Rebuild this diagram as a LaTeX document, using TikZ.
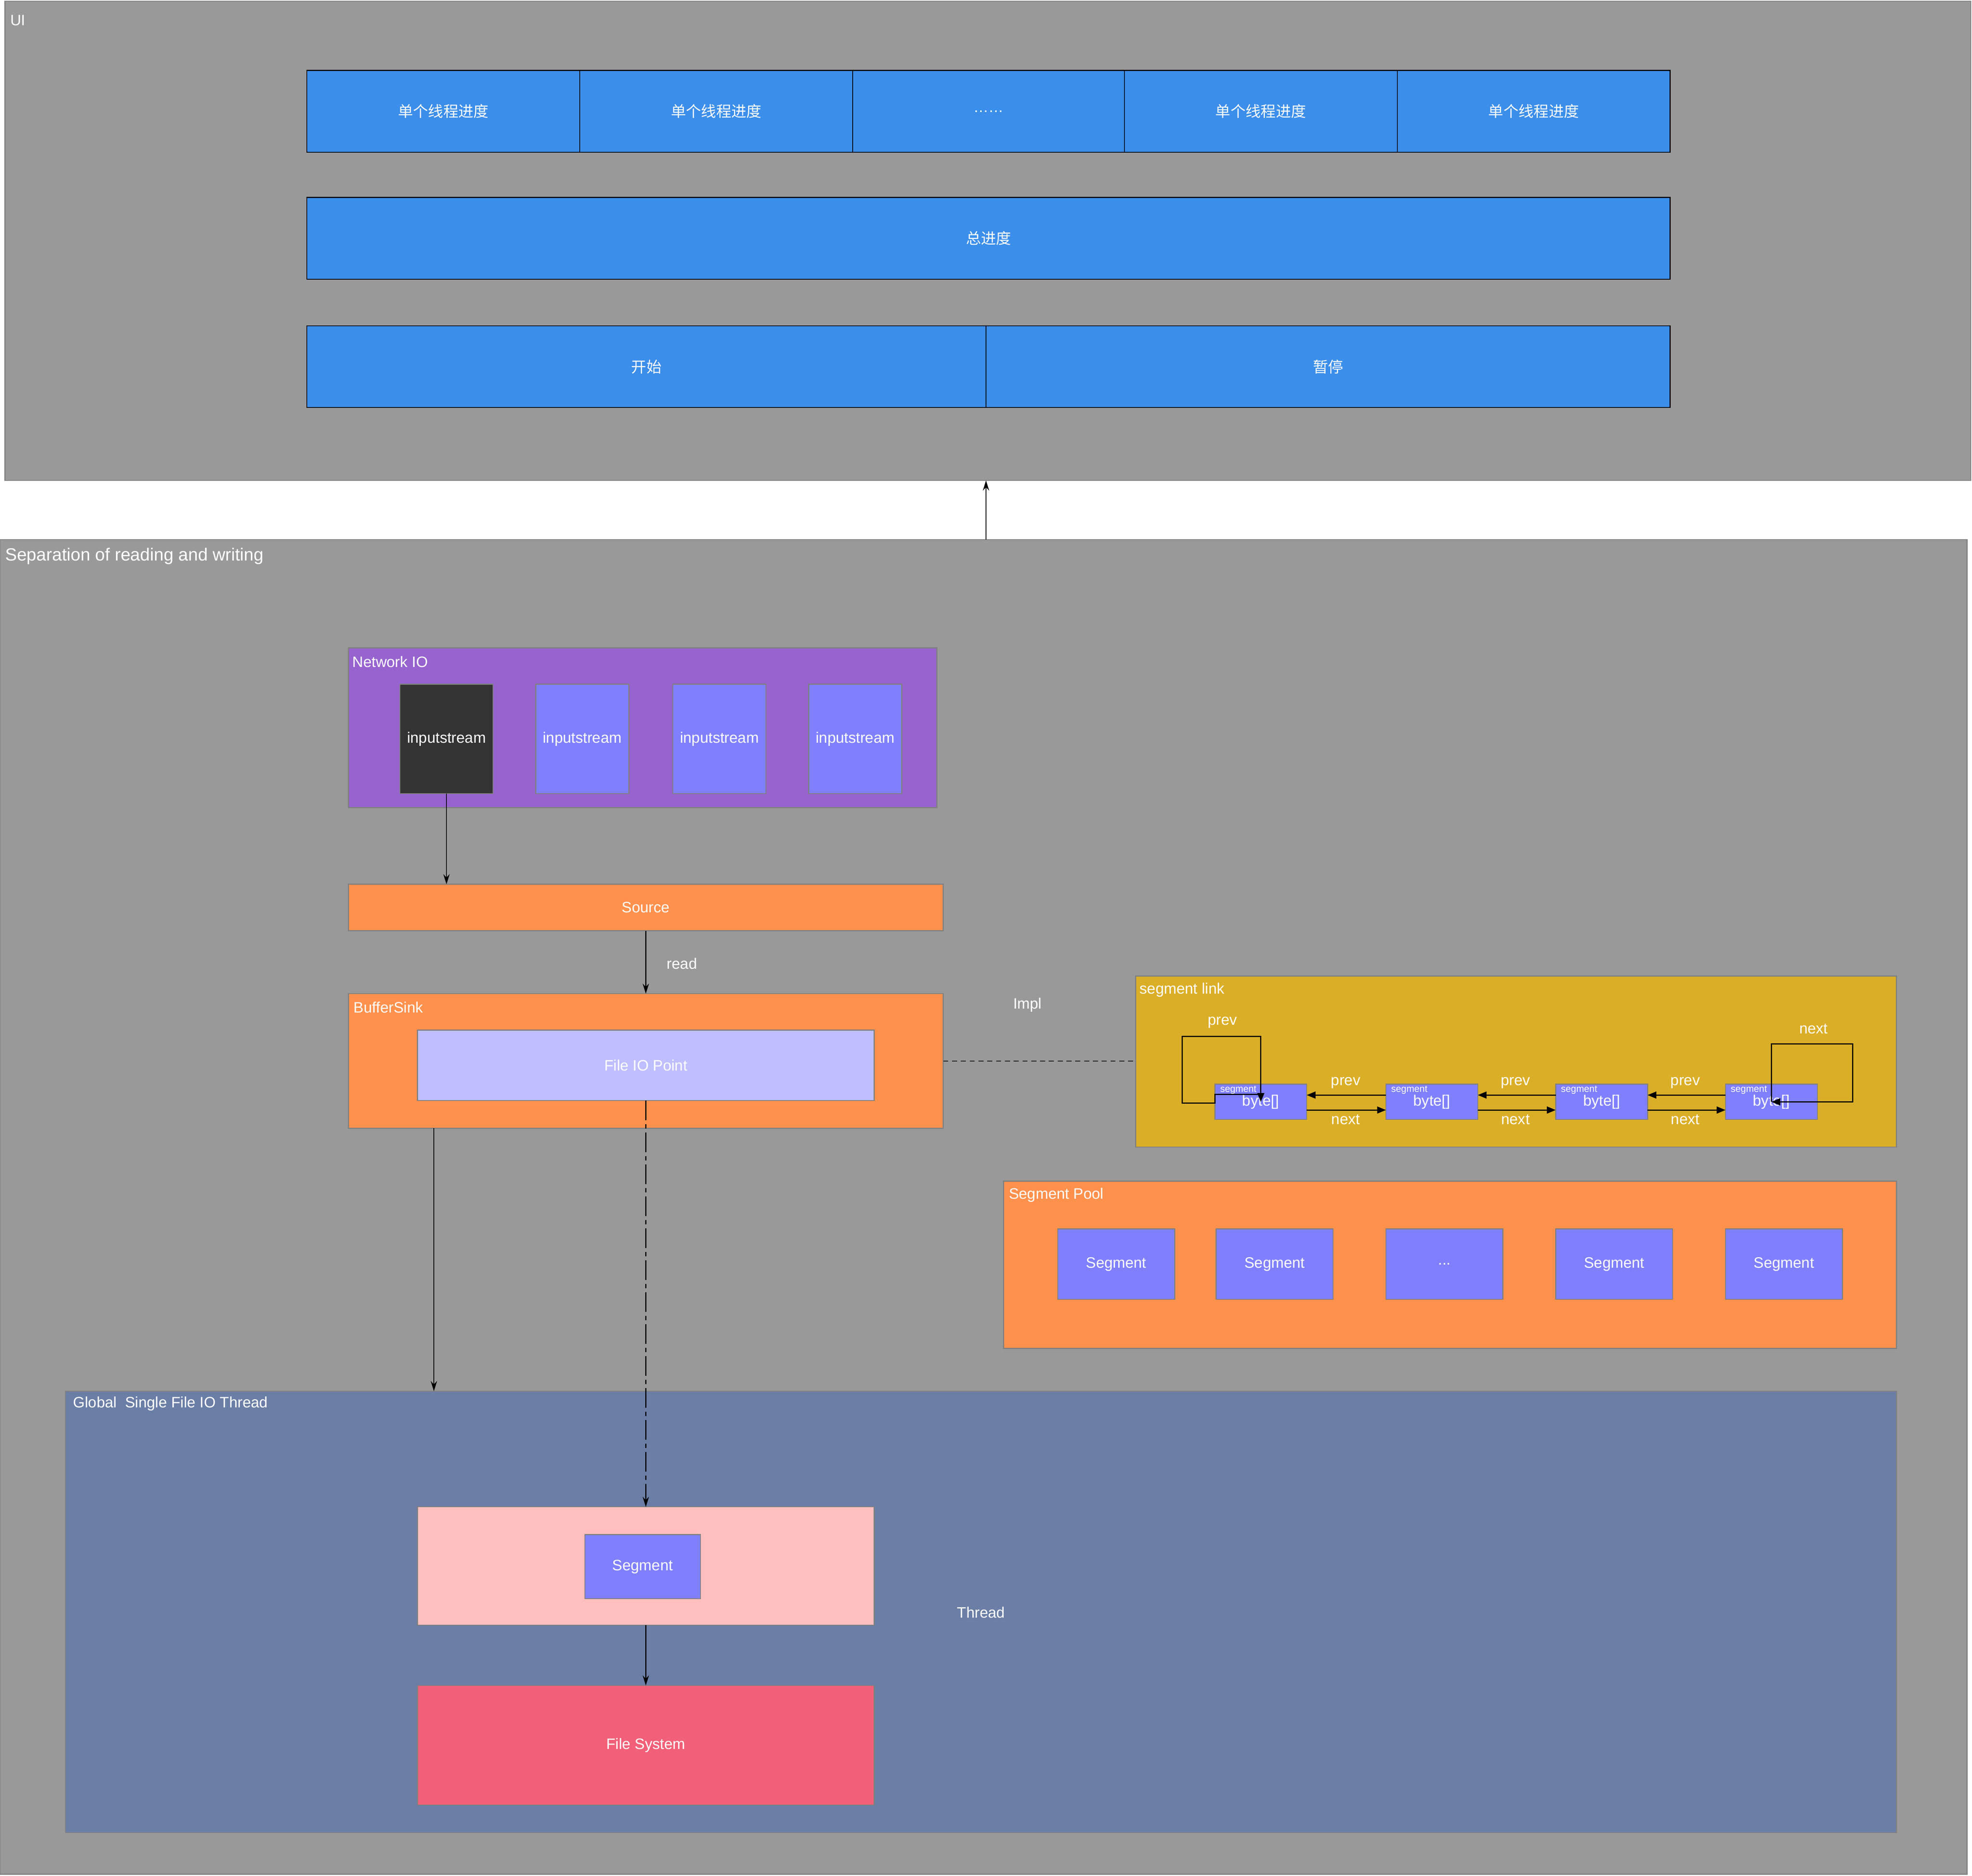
\documentclass[tikz,border=0pt]{standalone}
\usepackage{fontspec}
\setmainfont{Liberation Sans}
\newfontfamily\cjk{Noto Sans CJK SC}
\usetikzlibrary{arrows.meta}
\definecolor{uigray}{HTML}{999999}
\definecolor{bordergray}{HTML}{808080}
\definecolor{uiblue}{HTML}{3B8EEA}
\definecolor{netpurple}{HTML}{9663CF}
\definecolor{segblue}{HTML}{8080FF}
\definecolor{darkbox}{HTML}{333333}
\definecolor{orangebox}{HTML}{FF914D}
\definecolor{lavender}{HTML}{BFBFFF}
\definecolor{goldbox}{HTML}{DBAE27}
\definecolor{slatebox}{HTML}{6B7EA6}
\definecolor{pinkbox}{HTML}{FFBFBF}
\definecolor{redbox}{HTML}{F16078}
\tikzset{
  base/.style={anchor=north west, inner sep=0pt, outer sep=0pt, line width=0.8pt, text=white, font=\fontsize{12}{14}\selectfont},
  cont/.style={base, draw=bordergray, fill=uigray},
  uibox/.style={base, draw=black, fill=uiblue},
  gbox/.style={base, draw=bordergray},
  lbl/.style={anchor=west, inner sep=0pt, text=white, font=\fontsize{12}{14}\selectfont},
  clbl/.style={anchor=center, inner sep=0pt, text=white, font=\fontsize{12}{14}\selectfont},
  tiny/.style={anchor=north west, inner sep=0pt, text=white, font=\fontsize{7.5}{8}\selectfont},
  arr/.style={-{Stealth[length=8pt,width=5pt]}, line width=0.8pt, black},
  larr/.style={-{Triangle[length=7pt,width=5.5pt]}, line width=1pt, black},
}
\begin{document}
\begin{tikzpicture}[x=1pt,y=-1pt]
\useasboundingbox (0,0) rectangle (1568,1491.4);
\fill[white] (0,0) rectangle (1568,1491.4);

% UI container
\node[cont, minimum width=1563, minimum height=381] (ui) at (4,1) {};
\node[lbl] (uilbl) at (8,16) {UI};
\node[uibox, minimum width=217, minimum height=65, font=\cjk\fontsize{12}{14}\selectfont] (t1) at (244,56) {单个线程进度};
\node[uibox, minimum width=217, minimum height=65, font=\cjk\fontsize{12}{14}\selectfont] (t2) at (461,56) {单个线程进度};
\node[uibox, minimum width=216, minimum height=65] (t3) at (678,56) {……};
\node[uibox, minimum width=217, minimum height=65, font=\cjk\fontsize{12}{14}\selectfont] (t4) at (894,56) {单个线程进度};
\node[uibox, minimum width=217, minimum height=65, font=\cjk\fontsize{12}{14}\selectfont] (t5) at (1111,56) {单个线程进度};
\node[uibox, minimum width=1084, minimum height=65, font=\cjk\fontsize{12}{14}\selectfont] (total) at (244,157) {总进度};
\node[uibox, minimum width=540, minimum height=65, font=\cjk\fontsize{12}{14}\selectfont] (start) at (244,259) {开始};
\node[uibox, minimum width=544, minimum height=65, font=\cjk\fontsize{12}{14}\selectfont] (pause) at (784,259) {暂停};

% Separation container
\node[cont, minimum width=1564, minimum height=1061] (sep) at (0,429) {};
\node[lbl, font=\fontsize{14}{16}\selectfont] (seplbl) at (4,442) {Separation of reading and writing};
\draw[arr] (start.south east |- sep.north) -- (start.south east |- ui.south);

% Network IO
\node[gbox, fill=netpurple, minimum width=468, minimum height=127] (net) at (277,515) {};
\node[lbl] (netlbl) at (280,526) {Network IO};
\node[gbox, fill=darkbox, minimum width=74, minimum height=87] (in1) at (318,544) {inputstream};
\node[gbox, fill=segblue, minimum width=74, minimum height=87] (in2) at (426,544) {inputstream};
\node[gbox, fill=segblue, minimum width=74, minimum height=87] (in3) at (535,544) {inputstream};
\node[gbox, fill=segblue, minimum width=74, minimum height=87] (in4) at (643,544) {inputstream};

% Source and BufferSink
\node[gbox, fill=orangebox, minimum width=473, minimum height=37] (source) at (277,703) {Source};
\node[gbox, fill=orangebox, minimum width=473, minimum height=107] (sink) at (277,790) {};
\node[lbl] (sinklbl) at (281,801) {BufferSink};
\node[gbox, fill=lavender, minimum width=363, minimum height=56] (fiop) at (332,819) {File IO Point};
\draw[arr] (in1.south) -- (in1.south |- source.north);
\draw[arr] (source.south) -- (sink.north);
\node[lbl] (readlbl) at (530,766) {read};

% segment link
\node[gbox, fill=goldbox, minimum width=605, minimum height=136] (seglink) at (903,776) {};
\node[lbl] (seglinklbl) at (906,787) {segment link};
\draw[line width=0.7pt, dash pattern=on 4pt off 3pt] (sink.east) -- (sink.east -| seglink.west);
\node[clbl] (impllbl) at (817,799) {Impl};

\node[gbox, fill=segblue, minimum width=73, minimum height=28] (b1) at (966,862) {byte[]};
\node[gbox, fill=segblue, minimum width=73, minimum height=28] (b2) at (1102,862) {byte[]};
\node[gbox, fill=segblue, minimum width=73, minimum height=28] (b3) at (1237,862) {byte[]};
\node[gbox, fill=segblue, minimum width=73, minimum height=28] (b4) at (1372,862) {byte[]};
\node[tiny] (sg1) at ([xshift=4pt,yshift=-1pt]b1.north west) {segment};
\node[tiny] (sg2) at ([xshift=4pt,yshift=-1pt]b2.north west) {segment};
\node[tiny] (sg3) at ([xshift=4pt,yshift=-1pt]b3.north west) {segment};
\node[tiny] (sg4) at ([xshift=4pt,yshift=-1pt]b4.north west) {segment};

\draw[larr] ([yshift=5.4pt]b2.west) -- ([yshift=5.4pt]b1.east);
\draw[larr] ([yshift=-6.5pt]b1.east) -- ([yshift=-6.5pt]b2.west);
\draw[larr] ([yshift=5.4pt]b3.west) -- ([yshift=5.4pt]b2.east);
\draw[larr] ([yshift=-6.5pt]b2.east) -- ([yshift=-6.5pt]b3.west);
\draw[larr] ([yshift=5.4pt]b4.west) -- ([yshift=5.4pt]b3.east);
\draw[larr] ([yshift=-6.5pt]b3.east) -- ([yshift=-6.5pt]b4.west);
\node[clbl] (p1) at (1070,861) {prev};
\node[clbl] (p2) at (1205,861) {prev};
\node[clbl] (p3) at (1340,861) {prev};
\node[clbl] (n1) at (1070,890) {next};
\node[clbl] (n2) at (1205,890) {next};
\node[clbl] (n3) at (1340,890) {next};

\draw[larr] ([yshift=6pt]b1.center) -- ([yshift=6pt]b1.west) -- ([yshift=-1pt]b1.west) -- ++(-26,0) -- ++(0,-53) -- ([yshift=52pt]b1.center) -- (b1.center);
\node[clbl] (ploop) at (972,813) {prev};
\draw[larr] (b4.center) -- ([yshift=46pt]b4.center) -- ++(64.5,0) -- ++(0,46) -- (b4.center);
\node[clbl] (nloop) at (1442,818) {next};

% Segment Pool
\node[gbox, fill=orangebox, minimum width=710, minimum height=133] (pool) at (798,939) {};
\node[lbl] (poollbl) at (802,950) {Segment Pool};
\node[gbox, fill=segblue, minimum width=93, minimum height=56] (s1) at (841,977) {Segment};
\node[gbox, fill=segblue, minimum width=93, minimum height=56] (s2) at (967,977) {Segment};
\node[gbox, fill=segblue, minimum width=93, minimum height=56] (s3) at (1102,977) {...};
\node[gbox, fill=segblue, minimum width=93, minimum height=56] (s4) at (1237,977) {Segment};
\node[gbox, fill=segblue, minimum width=93, minimum height=56] (s5) at (1372,977) {Segment};

% Thread
\node[gbox, fill=slatebox, minimum width=1456, minimum height=351] (thread) at (52,1106) {};
\node[lbl] (threadlbl) at (58,1116) {Global\ \ Single File IO Thread};
\node[gbox, fill=pinkbox, minimum width=363, minimum height=94] (pink) at (332,1198) {};
\node[gbox, fill=segblue, minimum width=92, minimum height=51] (seg) at (465,1220) {Segment};
\node[gbox, fill=redbox, minimum width=363, minimum height=95] (fs) at (332,1340) {File System};
\node[clbl] (threadtxt) at (780,1282) {Thread};

\draw[arr] ([xshift=68pt]sink.south west) -- ([xshift=68pt]sink.south west |- thread.north);
\draw[arr, dash pattern=on 15.5pt off 3.2pt on 3.5pt off 3.2pt] (fiop.south) -- (pink.north);
\draw[arr] (pink.south) -- (fs.north);
\end{tikzpicture}
\end{document}
